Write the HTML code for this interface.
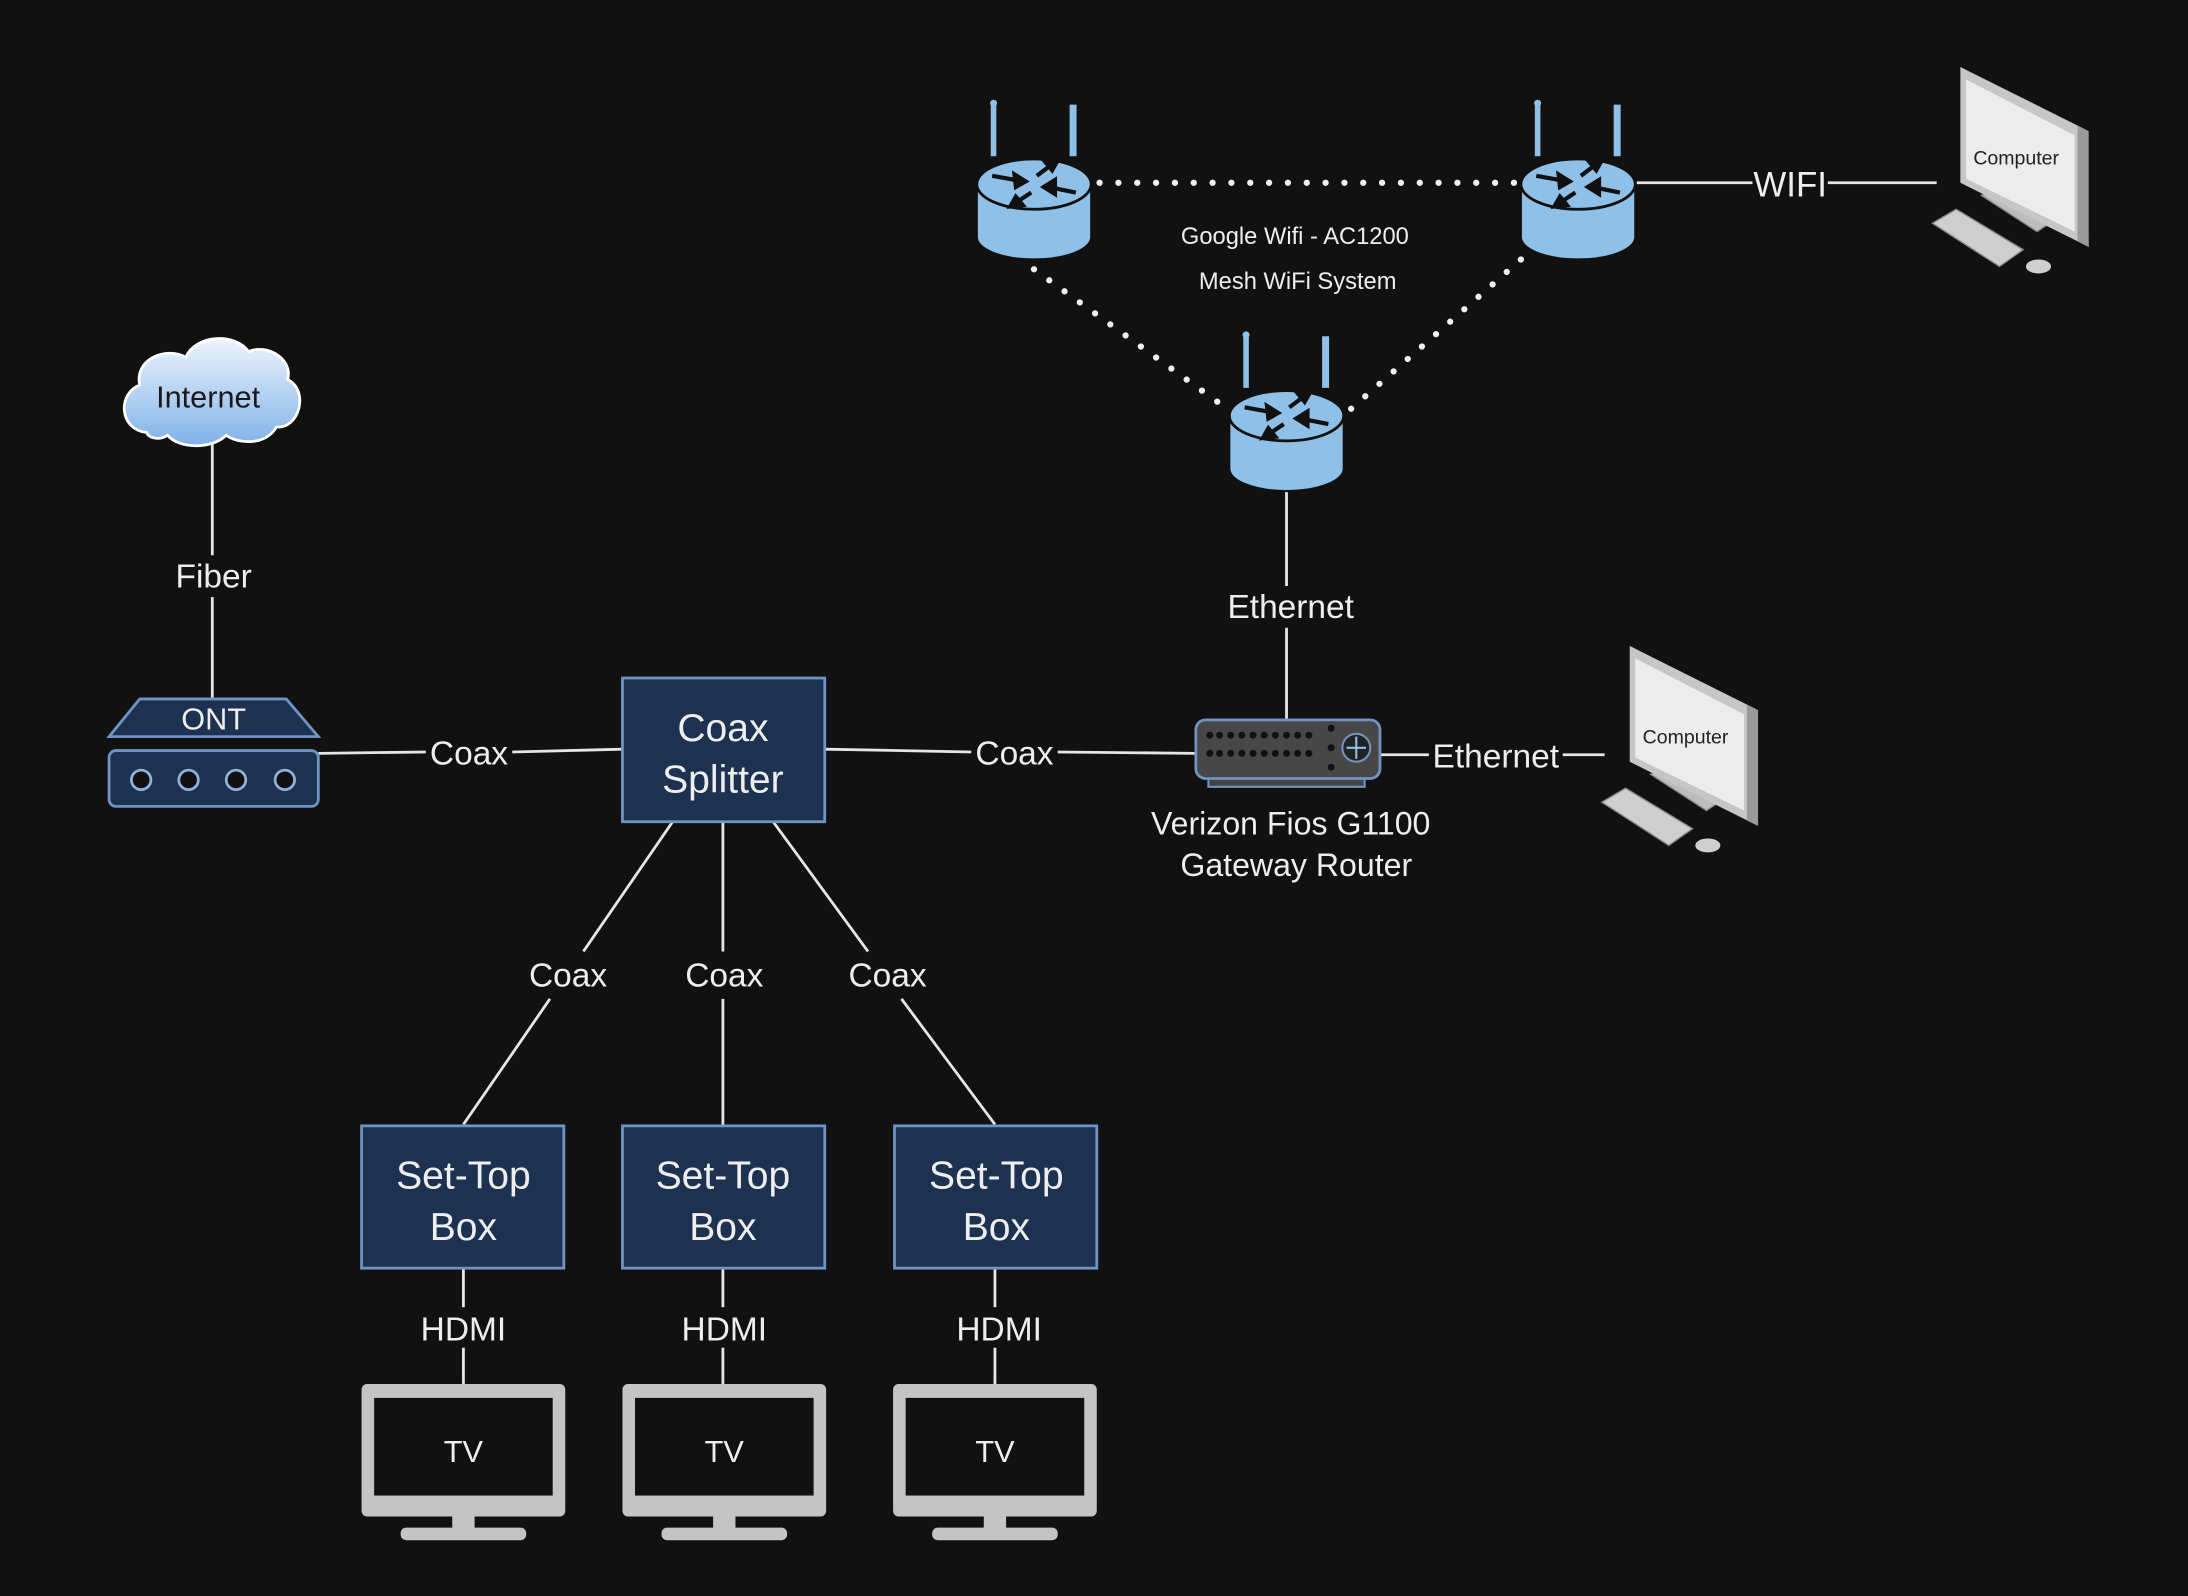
<!DOCTYPE html>
<html><head><meta charset="utf-8"><style>
html,body{margin:0;padding:0;background:#111111;}
svg{display:block;}
text{font-family:"Liberation Sans",sans-serif;}
</style></head><body>
<svg width="2188" height="1596" viewBox="0 0 1568 1144" xmlns="http://www.w3.org/2000/svg">
<defs>
<linearGradient id="cg" x1="0" y1="0" x2="0" y2="1"><stop offset="0" stop-color="#eef5fc"/><stop offset="1" stop-color="#7fb2e8"/></linearGradient>
<g id="router">
 <line x1="-29" y1="-57" x2="-29" y2="-20" stroke="#8fc0e8" stroke-width="4"/>
 <line x1="28" y1="-57" x2="28" y2="-20" stroke="#8fc0e8" stroke-width="5"/>
 <circle cx="-29" cy="-58" r="2.5" fill="#8fc0e8"/>
 <path d="M-41,0 L-41,38 A41,16 0 0 0 41,38 L41,0 Z" fill="#8fc0e8" stroke="#111" stroke-width="1.5"/>
 <ellipse cx="0" cy="0" rx="41" ry="18" fill="#8fc0e8" stroke="#111" stroke-width="2"/>
 <g stroke="#111" stroke-width="3" fill="#111">
  <line x1="-30" y1="-6" x2="-8" y2="-2"/><polygon points="-6,-2 -14,-7 -13,2"/>
  <line x1="30" y1="6" x2="10" y2="2"/><polygon points="7,2 15,-3 15,7"/>
  <line x1="2" y1="-6" x2="14" y2="-15"/><polygon points="17,-17 8,-16 13,-10"/>
  <line x1="-2" y1="6" x2="-14" y2="14"/><polygon points="-17,16 -8,15 -13,9"/>
 </g>
</g>
<g id="comp">
 <polygon points="1420,140 1432,134 1472,158 1460,166" fill="#bdbdbd" stroke="#888" stroke-width="1"/>
 <polygon points="1385,160 1402,150 1450,179 1433,191" fill="#cfcfcf" stroke="#8a8a8a" stroke-width="1"/>
 <ellipse cx="1461" cy="191" rx="9" ry="5" fill="#cfcfcf"/>
 <polygon points="1405,48 1495,93 1497,177 1405,131" fill="#c6c6c6"/>
 <polygon points="1489,90 1497,94 1497,177 1489,173" fill="#9a9a9a"/>
 <polygon points="1409,57 1487,97 1487,166 1409,128" fill="#ececec"/>
 <text x="1445" y="118" font-size="14" fill="#222" text-anchor="middle">Computer</text>
</g>
<g id="tv">
 <rect x="0" y="0" width="146" height="95" rx="4" fill="#c4c4c4"/>
 <rect x="9" y="10" width="128" height="70" fill="#111"/>
 <rect x="65" y="94" width="16" height="10" fill="#c4c4c4"/>
 <rect x="28" y="103" width="90" height="9" rx="4" fill="#c4c4c4"/>
 <text x="73" y="56" font-size="22" fill="#eee" text-anchor="middle">TV</text>
</g>
</defs>

<g stroke="#e6e6e6" stroke-width="2" fill="none">
 <line x1="152" y1="318" x2="152" y2="398"/><line x1="152" y1="428" x2="152" y2="501"/>
 <line x1="228" y1="540" x2="305" y2="539"/><line x1="367" y1="539" x2="446" y2="537"/>
 <line x1="591" y1="537" x2="696" y2="539"/><line x1="758" y1="539" x2="857" y2="540"/>
 <line x1="989" y1="541" x2="1024" y2="541"/><line x1="1120" y1="541" x2="1150" y2="541"/>
 <line x1="922" y1="350" x2="922" y2="420"/><line x1="922" y1="450" x2="922" y2="515"/>
 <line x1="1173" y1="131" x2="1256" y2="131"/><line x1="1310" y1="131" x2="1388" y2="131"/>
 <line x1="482" y1="589" x2="418" y2="682"/><line x1="394" y1="716" x2="332" y2="806"/>
 <line x1="518" y1="589" x2="518" y2="682"/><line x1="518" y1="716" x2="518" y2="806"/>
 <line x1="554" y1="589" x2="622" y2="682"/><line x1="646" y1="716" x2="713" y2="806"/>
 <line x1="332" y1="909" x2="332" y2="937"/><line x1="332" y1="966" x2="332" y2="992"/>
 <line x1="518" y1="909" x2="518" y2="937"/><line x1="518" y1="966" x2="518" y2="992"/>
 <line x1="713" y1="909" x2="713" y2="937"/><line x1="713" y1="966" x2="713" y2="992"/>
</g>
<g stroke="#f0f0f0" stroke-width="4.5" stroke-dasharray="0,13.5" stroke-linecap="round" fill="none">
 <line x1="788" y1="131" x2="1090" y2="131"/>
 <line x1="741" y1="193" x2="878" y2="292"/>
 <line x1="1090" y1="186" x2="966" y2="295"/>
</g>

<!-- cloud -->
<path d="M105,310 C85,308 84,282 100,276 C96,258 118,248 133,256 C140,240 168,238 178,252 C192,246 210,258 206,272 C222,280 214,308 198,306 C190,320 170,318 162,312 C152,322 128,322 120,312 C114,316 106,314 105,310 Z" fill="url(#cg)" stroke="#fff" stroke-width="2"/>
<text x="149" y="292" font-size="22" fill="#1a1a1a" text-anchor="middle">Internet</text>

<!-- ONT -->
<polygon points="100,501 205,501 228,528 78,528" fill="#1d3150" stroke="#6f93c2" stroke-width="2"/>
<text x="153" y="523" font-size="22" fill="#eee" text-anchor="middle">ONT</text>
<rect x="78" y="538" width="150" height="40" rx="5" fill="#1d3150" stroke="#6f93c2" stroke-width="2"/>
<g fill="#111" stroke="#8fb0d8" stroke-width="2"><circle cx="101" cy="559" r="7"/><circle cx="135" cy="559" r="7"/><circle cx="169" cy="559" r="7"/><circle cx="204" cy="559" r="7"/></g>

<!-- splitter & STB -->
<g fill="#1d3150" stroke="#6f93c2" stroke-width="2">
 <rect x="446" y="486" width="145" height="103"/>
 <rect x="259" y="807" width="145" height="102"/>
 <rect x="446" y="807" width="145" height="102"/>
 <rect x="641" y="807" width="145" height="102"/>
</g>
<g font-size="28" fill="#eee" text-anchor="middle">
 <text x="518" y="531">Coax</text><text x="518" y="568">Splitter</text>
 <text x="332" y="852">Set-Top</text><text x="332" y="889">Box</text>
 <text x="518" y="852">Set-Top</text><text x="518" y="889">Box</text>
 <text x="714" y="852">Set-Top</text><text x="714" y="889">Box</text>
</g>

<!-- labels -->
<g font-size="24" fill="#eee" text-anchor="middle">
 <text x="153" y="421">Fiber</text>
 <text x="336" y="548">Coax</text>
 <text x="727" y="548">Coax</text>
 <text x="925" y="443">Ethernet</text>
 <text x="1072" y="550">Ethernet</text>
 <text x="1283" y="141" font-size="25">WIFI</text>
 <text x="407" y="707">Coax</text><text x="519" y="707">Coax</text><text x="636" y="707">Coax</text>
 <text x="332" y="961">HDMI</text><text x="519" y="961">HDMI</text><text x="716" y="961">HDMI</text>
 <text x="925" y="598" font-size="23">Verizon Fios G1100</text>
 <text x="929" y="628" font-size="23">Gateway Router</text>
 <text x="928" y="175" font-size="17">Google Wifi - AC1200</text>
 <text x="930" y="207" font-size="17">Mesh WiFi System</text>
</g>

<!-- gateway -->
<rect x="866" y="554" width="112" height="10" fill="#444" stroke="#6f93c2" stroke-width="1.5"/>
<rect x="857" y="516" width="132" height="42" rx="7" fill="#474747" stroke="#6f93c2" stroke-width="2"/>
<g fill="#111">
 <circle cx="867" cy="527" r="2.5"/><circle cx="874" cy="527" r="2.5"/><circle cx="882" cy="527" r="2.5"/><circle cx="890" cy="527" r="2.5"/><circle cx="898" cy="527" r="2.5"/><circle cx="906" cy="527" r="2.5"/><circle cx="914" cy="527" r="2.5"/><circle cx="922" cy="527" r="2.5"/><circle cx="930" cy="527" r="2.5"/><circle cx="938" cy="527" r="2.5"/>
 <circle cx="867" cy="540" r="2.5"/><circle cx="874" cy="540" r="2.5"/><circle cx="882" cy="540" r="2.5"/><circle cx="890" cy="540" r="2.5"/><circle cx="898" cy="540" r="2.5"/><circle cx="906" cy="540" r="2.5"/><circle cx="914" cy="540" r="2.5"/><circle cx="922" cy="540" r="2.5"/><circle cx="930" cy="540" r="2.5"/><circle cx="938" cy="540" r="2.5"/>
 <circle cx="954" cy="522" r="2.5"/><circle cx="954" cy="536" r="2.5"/><circle cx="954" cy="550" r="2.5"/>
</g>
<circle cx="972" cy="536" r="10" fill="#222" stroke="#6f93c2" stroke-width="1.5"/>
<path d="M972,528 L972,544 M965,536 L979,536" stroke="#8fc0e8" stroke-width="1.5"/>

<!-- routers -->
<use href="#router" x="741" y="132"/>
<use href="#router" x="1131" y="132"/>
<use href="#router" x="922" y="298"/>

<!-- computers -->
<use href="#comp"/>
<use href="#comp" x="-237" y="415"/>

<!-- TVs -->
<use href="#tv" x="259" y="992"/>
<use href="#tv" x="446" y="992"/>
<use href="#tv" x="640" y="992"/>
</svg>
</body></html>
